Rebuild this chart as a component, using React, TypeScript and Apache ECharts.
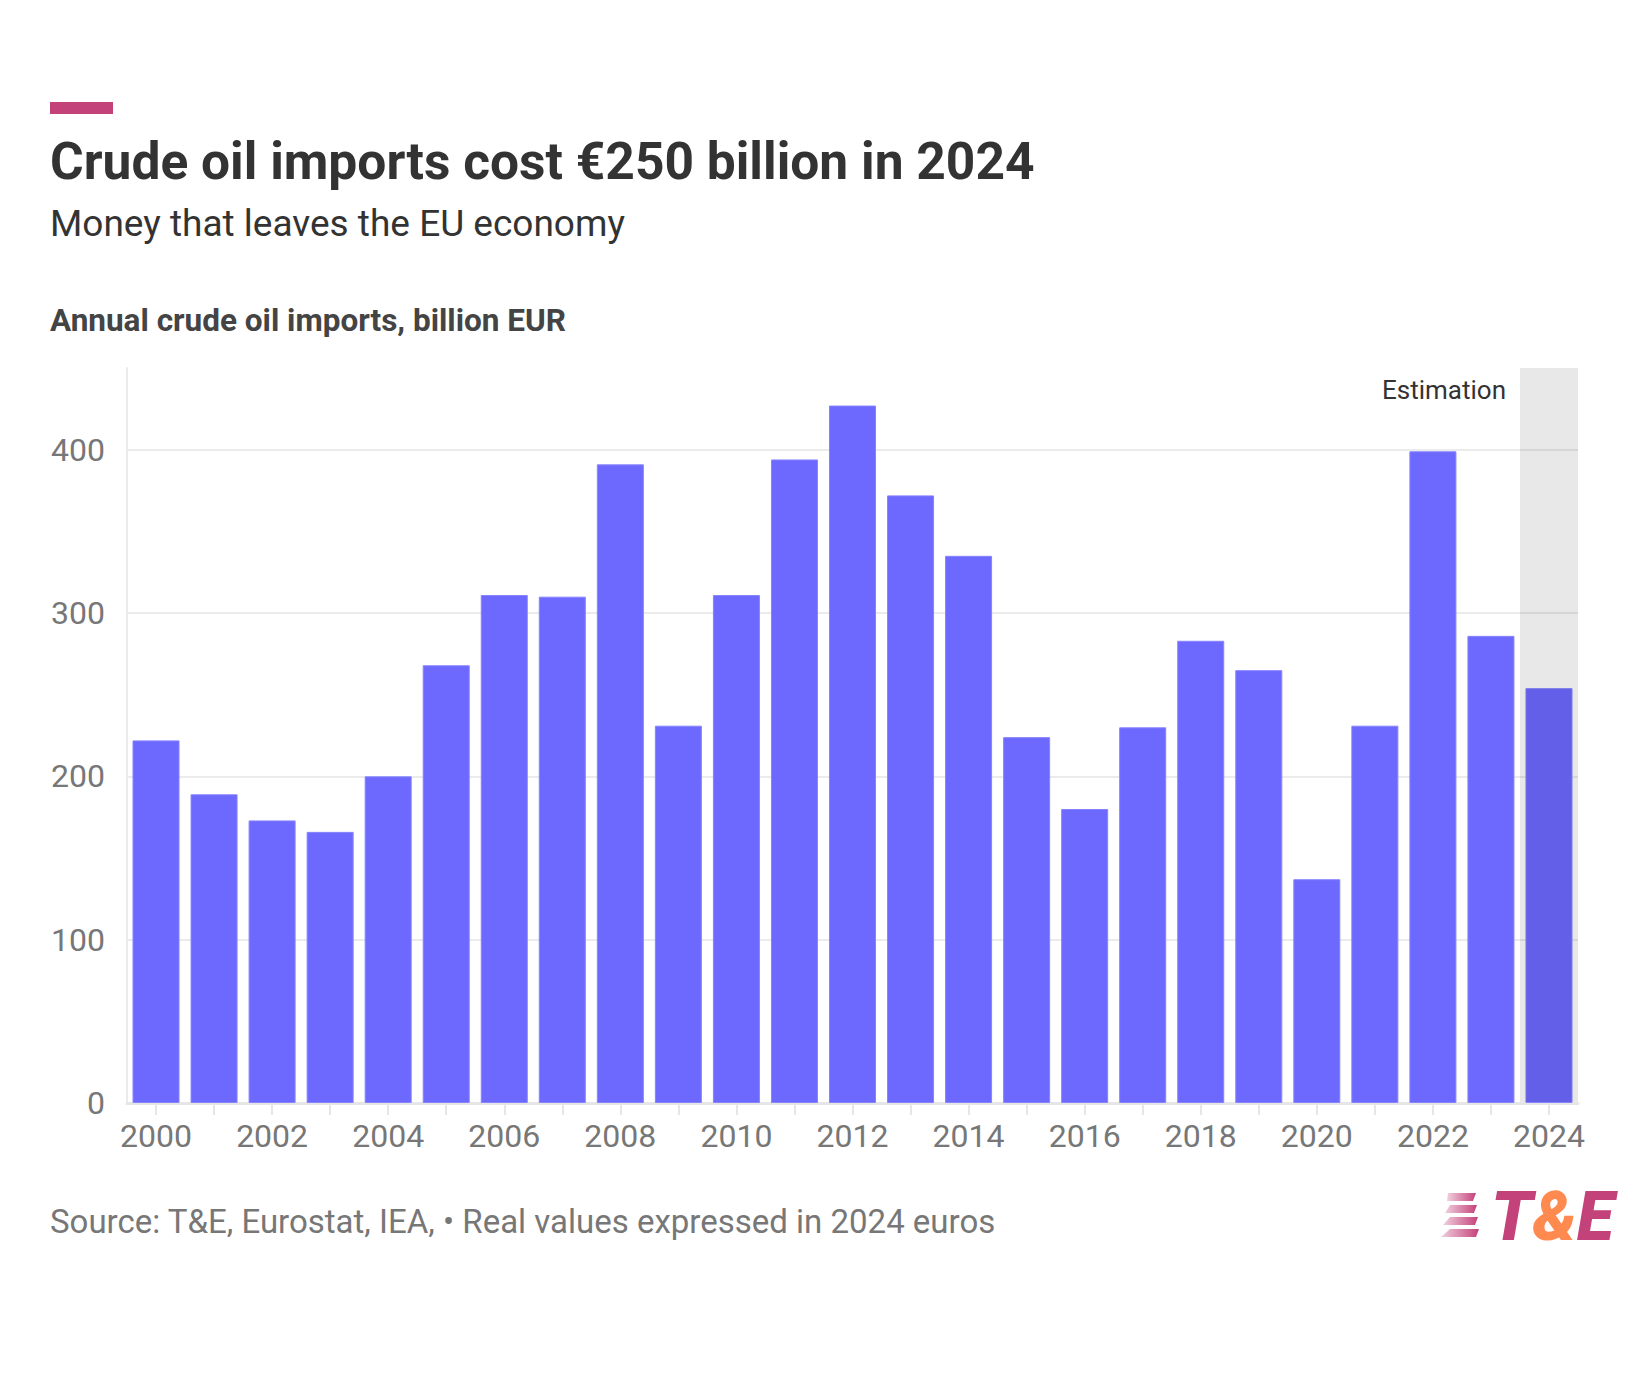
import React, { useEffect, useRef } from "react";
import * as echarts from "echarts";

const years = ["2000","2001","2002","2003","2004","2005","2006","2007","2008","2009","2010","2011","2012","2013","2014","2015","2016","2017","2018","2019","2020","2021","2022","2023","2024"];
const imports = [222,189,173,166,200,268,311,310,391,231,311,394,427,372,335,224,180,230,283,265,137,231,399,286,254];
const estimationYear = "2024";
const yTicks = [0, 100, 200, 300, 400];
const yMax = 450;

const W = 1645;
const H = 1379;

export default function App() {
  const ref = useRef<HTMLDivElement>(null);
  useEffect(() => {
    document.body.style.margin = "0";
    const chart = echarts.init(ref.current!, null, { renderer: "svg" });
    const font = "Roboto";
    const barColor = "#6d69ff";
    chart.setOption({
      animation: false,
      backgroundColor: "#ffffff",
      textStyle: { fontFamily: font },
      grid: { left: 127, right: 67, top: 368, bottom: 276, containLabel: false },
      xAxis: {
        type: "category",
        data: years,
        axisLine: { show: true, lineStyle: { color: "#e6e6e6", width: 3 } },
        axisTick: { show: true, alignWithLabel: true, interval: 0, length: 12, lineStyle: { color: "#e6e6e6", width: 2 } },
        axisLabel: { interval: 1, color: "#777777", fontSize: 32, fontFamily: font, margin: 17 },
      },
      yAxis: {
        type: "value",
        min: 0,
        max: yMax,
        interval: 100,
        axisLine: { show: true, lineStyle: { color: "#ebebeb", width: 2 } },
        axisTick: { show: false },
        axisLabel: {
          color: "#777777",
          fontSize: 32,
          fontFamily: font,
          margin: 22,
          formatter: (v: number) => (yTicks.indexOf(v) >= 0 ? String(v) : ""),
        },
        splitLine: {
          show: true,
          lineStyle: { color: ["#ebebeb", "#ebebeb", "#ebebeb", "#ebebeb", "#ebebeb", "rgba(0,0,0,0)"], width: 2 },
        },
      },
      series: [
        {
          type: "bar",
          data: imports,
          barCategoryGap: "19%",
          itemStyle: { color: barColor, borderColor: "#8683ff", borderWidth: 1 },
        },
      ],
    });

    const cx = chart.convertToPixel({ xAxisIndex: 0 }, estimationYear) as number;
    const cxPrev = chart.convertToPixel({ xAxisIndex: 0 }, years[years.indexOf(estimationYear) - 1]) as number;
    const band = cx - cxPrev;
    const yTop = chart.convertToPixel({ yAxisIndex: 0 }, yMax) as number;
    const yBot = chart.convertToPixel({ yAxisIndex: 0 }, 0) as number;

    chart.setOption({
      graphic: [
        {
          type: "rect",
          z: 100,
          silent: true,
          shape: { x: cx - band / 2, y: yTop, width: band, height: yBot - yTop - 1 },
          style: { fill: "rgba(0,0,0,0.09)" },
        },
        { type: "rect", shape: { x: 50, y: 102, width: 63, height: 12 }, style: { fill: "#c4427a" } },
        {
          type: "text",
          x: 50,
          y: 161,
          style: { text: "Crude oil imports cost €250 billion in 2024", fill: "#333333", font: `bold 51.5px ${font}`, verticalAlign: "middle" },
        },
        {
          type: "text",
          x: 50,
          y: 223,
          style: { text: "Money that leaves the EU economy", fill: "#333333", font: `37px ${font}`, verticalAlign: "middle" },
        },
        {
          type: "text",
          x: 50,
          y: 320,
          style: { text: "Annual crude oil imports, billion EUR", fill: "#444444", font: `bold 31.5px ${font}`, verticalAlign: "middle" },
        },
        {
          type: "text",
          x: 1506,
          y: 390,
          style: { text: "Estimation", fill: "#333333", font: `26px ${font}`, align: "right", verticalAlign: "middle" },
        },
        {
          type: "text",
          x: 50,
          y: 1221,
          style: { text: "Source: T&E, Eurostat, IEA, • Real values expressed in 2024 euros", fill: "#777777", font: `33px ${font}`, verticalAlign: "middle" },
        },
        {
          type: "group",
          x: 0,
          y: 0,
          children: [0, 1, 2, 3].map((k) => ({
            type: "polygon",
            shape: {
              points: [
                [1448 + (k === 0 ? 0 : 2), 1193 + k * 12],
                [1476 + k * 1, 1193 + k * 12],
                [1475 + k * 1 - 2, 1201 + k * 12],
                [1447 - k * 2, 1201 + k * 12],
              ],
            },
            style: {
              fill: new echarts.graphic.LinearGradient(0, 0, 1, 0, [
                { offset: 0, color: "rgba(196,66,122,0.25)" },
                { offset: 1, color: "rgba(196,66,122,1)" },
              ]),
            },
          })),
        },
        {
          type: "text",
          x: 1491,
          y: 1217,
          style: {
            text: "{a|T}{b|&}{a|E}",
            verticalAlign: "middle",
            rich: {
              a: { fill: "#c4427a", fontSize: 68, fontWeight: 900, fontStyle: "italic", fontFamily: font },
              b: { fill: "#ff8a50", fontSize: 68, fontWeight: 900, fontStyle: "italic", fontFamily: font },
            },
          },
        },
      ],
    });
    return () => chart.dispose();
  }, []);
  return <div ref={ref} style={{ width: W, height: H, position: "absolute", left: 0, top: 0 }} />;
}
